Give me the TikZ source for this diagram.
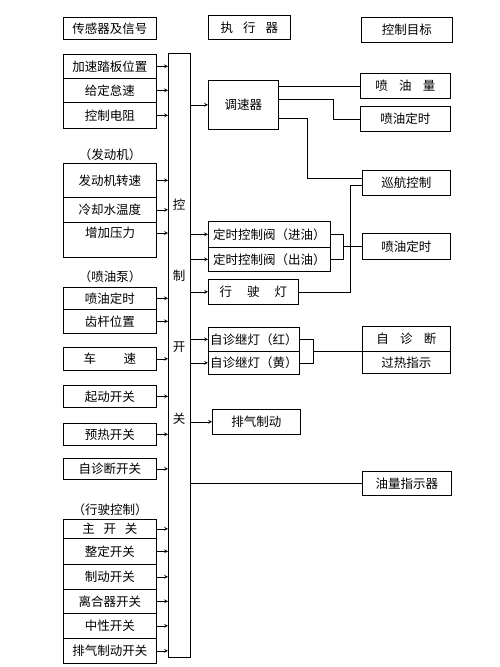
\documentclass[tikz,border=0pt]{standalone}
\usepackage{fontspec}
\setmainfont{Noto Sans CJK SC}

\begin{document}
\begin{tikzpicture}[x=1pt,y=-1pt,line width=0.7pt,font=\fontsize{12.5}{14}\selectfont,
  case/.style 2 args={draw,anchor=north west,inner sep=0pt,minimum width=#1,minimum height=#2},
  fl/.style={->,>=stealth}]
\useasboundingbox (0,0) rectangle (500,667);

%titres
\node[case={93pt}{22pt}] (titcap) at (63,17) {传感器及信号};
\node[case={82pt}{24pt}] (titexe) at (208,15) {执\hspace{.8em}行\hspace{.8em}器};
\node[case={91pt}{25pt}] (titobj) at (361,17) {控制目标};

%capteurs
\node[case={93pt}{24pt}] (jstb) at (63,54) {加速踏板位置};
\node[case={93pt}{24pt}] (gdds) at (63,78) {给定怠速};
\node[case={93pt}{26pt}] (kzdz) at (63,102) {控制电阻};

\node (fdj) at (110,155) {（发动机）};
\node[case={93pt}{34pt}] (fdjzs) at (63,163) {发动机转速};
\node[case={93pt}{25pt}] (lqsw) at (63,197) {冷却水温度};
\node[case={93pt}{35pt}] (zjyl) at (63,222) {};
\node (zjylt) at (110,233) {增加压力};

\node (pyb) at (110,277) {（喷油泵）};
\node[case={93pt}{22pt}] (pyds) at (63,287) {喷油定时};
\node[case={93pt}{24pt}] (cgwz) at (63,309) {齿杆位置};

\node[case={93pt}{23pt}] (cs) at (63,347) {车\hspace{2.2em}速};
\node[case={93pt}{22pt}] (qdkg) at (63,385) {起动开关};
\node[case={93pt}{22pt}] (yrkg) at (63,423) {预热开关};
\node[case={93pt}{21pt}] (zzdkg) at (63,458) {自诊断开关};

\node (xskz) at (110,510) {（行驶控制）};
\node[case={93pt}{19pt}] (zkg) at (63,519) {主\hspace{.7em}开\hspace{.7em}关};
\node[case={93pt}{26pt}] (zdkg) at (63,538) {整定开关};
\node[case={93pt}{25pt}] (zhdkg) at (63,564) {制动开关};
\node[case={93pt}{24pt}] (lhq) at (63,589) {离合器开关};
\node[case={93pt}{25pt}] (zxkg) at (63,613) {中性开关};
\node[case={93pt}{25pt}] (pqkg) at (63,638) {排气制动开关};

%bus
\node[case={22pt}{604pt}] (bus) at (168,53) {};
\node (bk) at (179,205) {控};
\node (bz) at (179,276) {制};
\node (bkk) at (179,347) {开};
\node (bg) at (179,419) {关};

\foreach \n in {jstb,gdds,kzdz,fdjzs,lqsw,pyds,cgwz,cs,qdkg,yrkg,zzdkg,zkg,zdkg,zhdkg,lhq,zxkg,pqkg}
  \draw[fl] (\n.east) -- (\n.east -| bus.west);
\draw[fl] (zjylt -| zjyl.east) -- (zjylt -| bus.west);

%actionneurs
\node[case={70pt}{49pt}] (tsq) at (208,80) {调速器};
\node[case={122pt}{26pt}] (dsjy) at (208,221) {定时控制阀（进油）};
\node[case={122pt}{24pt}] (dscy) at (208,247) {定时控制阀（出油）};
\node[case={90pt}{25pt}] (xsd) at (208,279) {行\hspace{1.2em}驶\hspace{1.2em}灯};
\node[case={91pt}{24pt}] (zjh) at (208,327) {自诊继灯（红）};
\node[case={91pt}{23pt}] (zjhu) at (208,351) {自诊继灯（黄）};
\node[case={88pt}{25pt}] (pqzd) at (212,409) {排气制动};

\draw[fl] (bus.east |- tsq.west) -- (tsq.west);
\foreach \n in {dsjy,dscy,xsd,zjh,zjhu,pqzd}
  \draw[fl] (bus.east |- \n.west) -- (\n.west);

%objectifs
\node[case={90pt}{25pt}] (pyl) at (360,73) {喷\hspace{.9em}油\hspace{.9em}量};
\node[case={90pt}{25pt}] (pyds1) at (360,106) {喷油定时};
\node[case={88pt}{25pt}] (xhkz) at (362,170) {巡航控制};
\node[case={88pt}{26pt}] (pyds2) at (362,233) {喷油定时};
\node[case={88pt}{25pt}] (zzd) at (362,326) {自\hspace{.9em}诊\hspace{.9em}断};
\node[case={88pt}{22pt}] (grzs) at (362,351) {过热指示};
\node[case={89pt}{24pt}] (ylzs) at (362,471) {油量指示器};

%liaisons
\draw (tsq.east |- pyl.west) -- (pyl.west);
\draw ([yshift=6pt]tsq.east) -- ++(55,0) |- (pyds1.west);
\draw ([yshift=-13.5pt]tsq.east) -- ++(29,0) |- ([yshift=5pt]xhkz.west);
\draw ([yshift=-2pt]xhkz.west) -- ++(-12,0) |- (xsd.east);
\draw (dsjy.east) -- ++(13,0) coordinate (acr1) |- (dscy.east);
\draw (acr1 |- pyds2.west) -- (pyds2.west);
\draw (zjh.east) -- ++(14,0) coordinate (acr2) |- (zjhu.east);
\draw (acr2 |- zzd.south west) -- (zzd.south west);
\draw (bus.east |- ylzs.west) -- (ylzs.west);

\end{tikzpicture}
\end{document}
